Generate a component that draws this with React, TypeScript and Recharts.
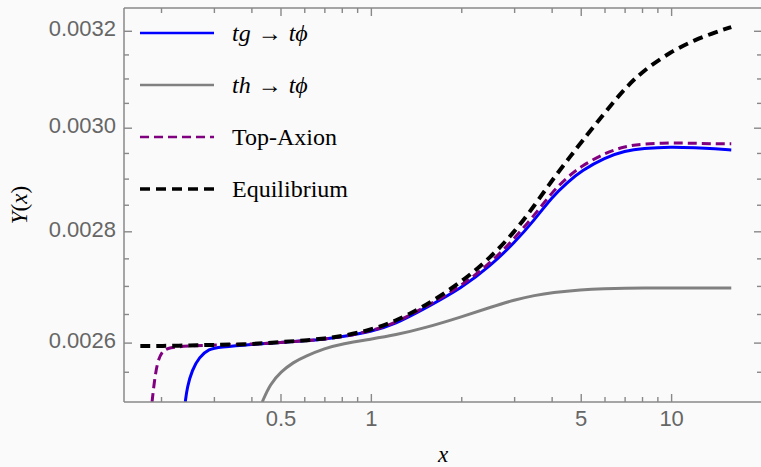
import React from "react";
import { LineChart, Line, XAxis, YAxis, Legend, ReferenceLine } from "recharts";

// tg -> t phi (blue)
const tgX = [0.24, 0.2435, 0.253, 0.267, 0.288, 0.311, 0.4, 0.5, 0.6, 0.7, 0.8, 1, 1.2, 1.5, 2, 2.5, 3, 3.5, 4, 4.5, 5, 6, 7, 8, 10, 12, 14, 15.8];
const tgY = [0.0025, 0.002525, 0.002554, 0.002576, 0.00259, 0.002593, 0.002598, 0.002601, 0.002604, 0.002607, 0.002611, 0.00262, 0.002633, 0.00266, 0.002697, 0.002738, 0.00278, 0.002823, 0.002866, 0.002894, 0.002916, 0.002942, 0.002955, 0.00296, 0.002963, 0.002961, 0.002959, 0.002957];

// th -> t phi (gray)
const thX = [0.433, 0.46, 0.5, 0.55, 0.6, 0.7, 0.8, 1, 1.2, 1.5, 2, 2.5, 3, 3.5, 4, 5, 6, 7, 8, 10, 12, 15.8];
const thY = [0.0025, 0.00253, 0.002551, 0.002567, 0.002577, 0.002591, 0.002599, 0.002607, 0.002614, 0.002626, 0.002646, 0.002663, 0.002676, 0.002684, 0.002689, 0.002694, 0.002696, 0.002697, 0.002697, 0.002697, 0.002697, 0.002697];

// Top-Axion (purple dashed)
const axX = [0.186, 0.189, 0.1935, 0.2, 0.211, 0.25, 0.3, 0.4, 0.5, 0.6, 0.7, 0.8, 1, 1.2, 1.5, 2, 2.5, 3, 3.5, 4, 4.5, 5, 6, 7, 8, 10, 12, 14, 15.8];
const axY = [0.0025, 0.002532, 0.002566, 0.002585, 0.002593, 0.002595, 0.002597, 0.002598, 0.002601, 0.002604, 0.002607, 0.002611, 0.002621, 0.002635, 0.002662, 0.002701, 0.002743, 0.002788, 0.002832, 0.002875, 0.002904, 0.002925, 0.002951, 0.002964, 0.002969, 0.002971, 0.00297, 0.002969, 0.002969];

// Equilibrium (black dashed)
const eqX = [0.17, 0.2, 0.25, 0.3, 0.4, 0.5, 0.6, 0.7, 0.8, 1, 1.2, 1.5, 2, 2.5, 3, 3.5, 4, 4.5, 5, 6, 7, 8, 10, 12, 14, 15.8];
const eqY = [0.002595, 0.002595, 0.002596, 0.002597, 0.002598, 0.002602, 0.0026045, 0.002608, 0.002612, 0.002623, 0.002638, 0.002664, 0.002708, 0.002753, 0.0028, 0.00285, 0.002898, 0.002937, 0.002972, 0.003032, 0.003081, 0.003116, 0.003158, 0.003182, 0.003198, 0.003209];

const xTicks = [0.2, 0.3, 0.4, 0.5, 0.6, 0.7, 0.8, 0.9, 1, 2, 3, 4, 5, 6, 7, 8, 9, 10];
const xLabelled = [0.5, 1, 5, 10];
const yTicks = [0.00255, 0.0026, 0.00265, 0.0027, 0.00275, 0.0028, 0.00285, 0.0029, 0.00295, 0.003, 0.00305, 0.0031, 0.00315, 0.0032];
const yLabelled = [0.0026, 0.0028, 0.003, 0.0032];
const xDomain = [0.15, 20];
const yDomain = [0.0025, 0.00325];

const toPoints = (xs: number[], ys: number[]) => xs.map((x, i) => ({ x, y: ys[i] }));

const W = 763;
const H = 467;
const PLOT = { left: 124, top: 8, right: 762, bottom: 402 };
const FRAME = "#888888";
const LABEL = "#666666";
const SANS = "'Liberation Sans', Arial, sans-serif";
const SERIF = "'Liberation Serif', 'DejaVu Serif', serif";

const isIn = (list: number[], v: number) => list.some((t) => Math.abs(t - v) < 1e-9);

const series = [
    { key: "tg", data: toPoints(tgX, tgY), color: "#0000ff", width: 3, dash: undefined as string | undefined },
    { key: "th", data: toPoints(thX, thY), color: "#808080", width: 3, dash: undefined },
    { key: "ax", data: toPoints(axX, axY), color: "#800080", width: 3, dash: "9 5" },
    { key: "eq", data: toPoints(eqX, eqY), color: "#000000", width: 4, dash: "10 6" },
];

const Italic = ({ children }: { children: React.ReactNode }) => (
    <span style={{ fontStyle: "italic" }}>{children}</span>
);

const legendLabels: Record<string, React.ReactNode> = {
    tg: (
        <>
            <Italic>tg</Italic>
            <span style={{ margin: "0 7px" }}>→</span>
            <Italic>tϕ</Italic>
        </>
    ),
    th: (
        <>
            <Italic>th</Italic>
            <span style={{ margin: "0 7px" }}>→</span>
            <Italic>tϕ</Italic>
        </>
    ),
    ax: "Top-Axion",
    eq: "Equilibrium",
};

// bottom axis tick, mirrored on the top edge of the frame
function XTick(props: any) {
    const { x, payload } = props;
    const major = isIn(xLabelled, payload.value);
    const len = major ? 8 : 5;
    return (
        <g>
            <line x1={x} x2={x} y1={PLOT.bottom} y2={PLOT.bottom - len} stroke={FRAME} strokeWidth={1.4} />
            <line x1={x} x2={x} y1={PLOT.top} y2={PLOT.top + len} stroke={FRAME} strokeWidth={1.4} />
            {major && (
                <text x={x} y={PLOT.bottom + 24} textAnchor="middle" fontFamily={SANS} fontSize={22} fill={LABEL}>
                    {String(payload.value)}
                </text>
            )}
        </g>
    );
}

// left axis tick, mirrored on the right edge of the frame
function YTick(props: any) {
    const { y, payload } = props;
    const major = isIn(yLabelled, payload.value);
    const len = major ? 8 : 5;
    return (
        <g>
            <line x1={PLOT.left} x2={PLOT.left + len} y1={y} y2={y} stroke={FRAME} strokeWidth={1.4} />
            <line x1={PLOT.right} x2={PLOT.right - len} y1={y} y2={y} stroke={FRAME} strokeWidth={1.4} />
            {major && (
                <text x={PLOT.left - 8} y={y + 5} textAnchor="end" fontFamily={SANS} fontSize={22} fill={LABEL}>
                    {payload.value.toFixed(4)}
                </text>
            )}
        </g>
    );
}

function LegendBox() {
    return (
        <div style={{ fontFamily: SERIF, fontSize: 24, color: "#000" }}>
            {series.map((s) => (
                <div key={s.key} style={{ display: "flex", alignItems: "center", height: 52 }}>
                    <svg width={74} height={6} style={{ display: "block" }}>
                        <line x1={0} x2={74} y1={3} y2={3} stroke={s.color} strokeWidth={s.width - 0.5} strokeDasharray={s.dash} />
                    </svg>
                    <span style={{ marginLeft: 18, whiteSpace: "nowrap" }}>{legendLabels[s.key]}</span>
                </div>
            ))}
        </div>
    );
}

export default function App() {
    return (
        <div style={{ position: "absolute", left: 0, top: 0, width: 761, height: 467, overflow: "hidden", background: "#fafafa" }}>
            <LineChart width={W} height={H} margin={{ top: 8, right: 1, bottom: 0, left: 0 }}>
                <XAxis
                    dataKey="x"
                    type="number"
                    scale="log"
                    domain={xDomain}
                    allowDataOverflow
                    ticks={xTicks}
                    interval={0}
                    height={65}
                    tickLine={false}
                    axisLine={{ stroke: FRAME, strokeWidth: 1.5 }}
                    tick={(p: any) => <XTick {...p} />}
                    label={{
                        content: () => (
                            <text x={(PLOT.left + PLOT.right) / 2} y={462} textAnchor="middle" fontFamily={SERIF} fontStyle="italic" fontSize={23}>
                                x
                            </text>
                        ),
                    }}
                />
                <YAxis
                    type="number"
                    scale="log"
                    domain={yDomain}
                    allowDataOverflow
                    ticks={yTicks}
                    interval={0}
                    width={124}
                    tickLine={false}
                    axisLine={{ stroke: FRAME, strokeWidth: 1.5 }}
                    tick={(p: any) => <YTick {...p} />}
                    label={{
                        content: () => {
                            const cy = (PLOT.top + PLOT.bottom) / 2;
                            return (
                                <text x={27} y={cy} transform={`rotate(-90, 27, ${cy})`} textAnchor="middle" fontFamily={SERIF} fontSize={23}>
                                    <tspan fontStyle="italic">Y</tspan>(<tspan fontStyle="italic">x</tspan>)
                                </text>
                            );
                        },
                    }}
                />
                {/* top and right edges of the frame */}
                <ReferenceLine y={yDomain[1]} stroke={FRAME} strokeWidth={1.5} ifOverflow="visible" />
                <ReferenceLine x={xDomain[1]} stroke={FRAME} strokeWidth={1.5} ifOverflow="visible" />
                <Legend
                    layout="vertical"
                    align="center"
                    verticalAlign="middle"
                    wrapperStyle={{ left: 140, top: 7, width: "auto" }}
                    content={() => <LegendBox />}
                />
                {series.map((s) => (
                    <Line
                        key={s.key}
                        data={s.data}
                        dataKey="y"
                        type="basis"
                        stroke={s.color}
                        strokeWidth={s.width}
                        strokeDasharray={s.dash}
                        dot={false}
                        activeDot={false}
                        isAnimationActive={false}
                    />
                ))}
            </LineChart>
        </div>
    );
}
